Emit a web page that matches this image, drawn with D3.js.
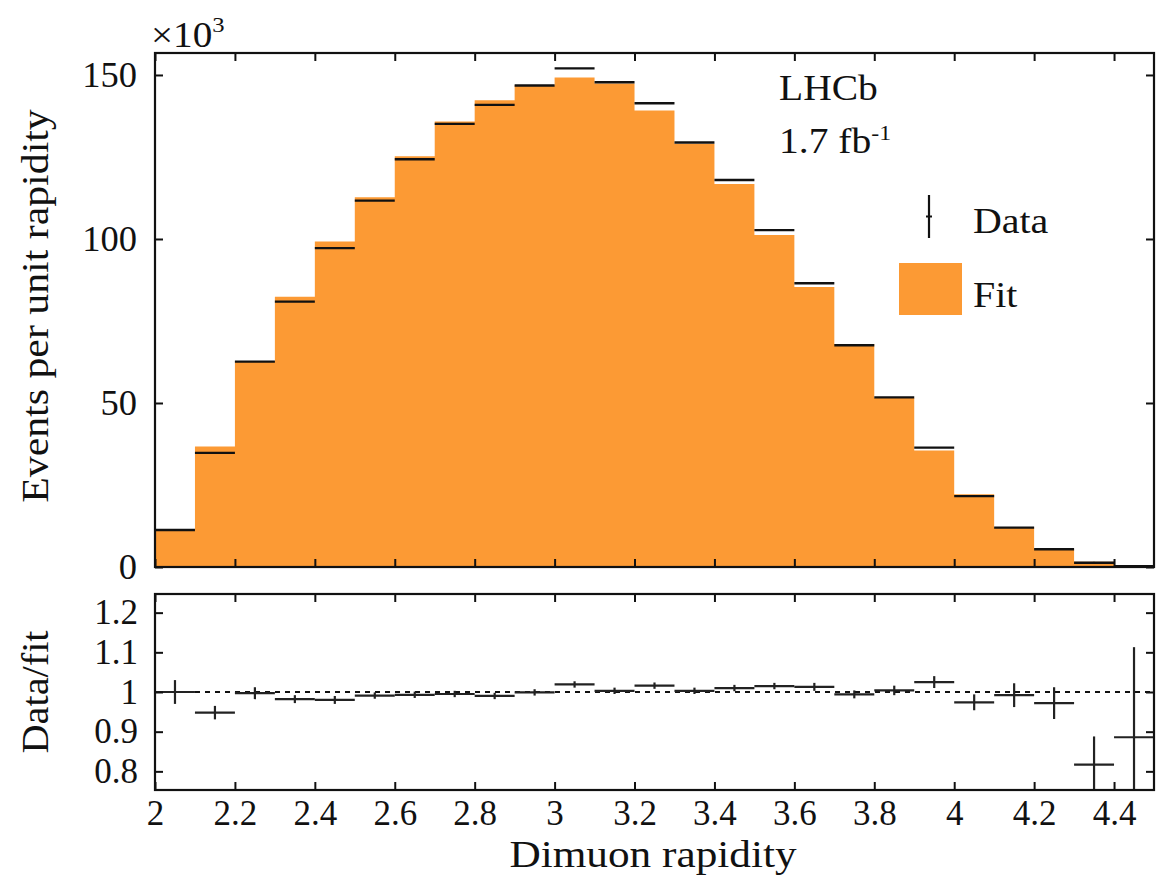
<!DOCTYPE html>
<html><head><meta charset="utf-8">
<script src="https://cdn.jsdelivr.net/npm/d3@7"></script>
<style>
html,body{margin:0;padding:0;background:#fff;}
svg text{font-family:"Liberation Serif","Times New Roman",serif;fill:#111;}
</style></head>
<body>
<svg id="chart" width="1157" height="887"></svg>
<script>
// ---- data ----
const binEdges = [2.0,2.1,2.2,2.3,2.4,2.5,2.6,2.7,2.8,2.9,3.0,3.1,3.2,3.3,3.4,3.5,3.6,3.7,3.8,3.9,4.0,4.1,4.2,4.3,4.4,4.5];
// events per unit rapidity, in units of 10^3
const dataVals = [11.3,34.8,62.6,80.9,97.2,111.7,124.3,135.1,140.9,146.8,152.0,147.8,141.4,129.4,118.0,102.7,86.5,67.6,51.7,36.4,21.6,12.0,5.4,1.3,0.25];
const dataErr  = [0.4,0.5,0.5,0.5,0.5,0.5,0.5,0.5,0.5,0.5,0.5,0.5,0.5,0.5,0.5,0.5,0.5,0.5,0.4,0.4,0.4,0.4,0.3,0.2,0.1];
const fitVals  = [11.4,36.7,62.8,82.4,99.2,112.7,125.2,135.8,142.3,146.9,149.2,147.4,139.2,129.0,116.8,101.2,85.4,68.0,51.5,35.5,22.2,12.1,5.6,1.6,0.28];
// data / fit ratio
const ratioVals = [1.000,0.948,0.997,0.982,0.980,0.991,0.993,0.995,0.990,0.999,1.019,1.003,1.016,1.003,1.010,1.015,1.013,0.994,1.004,1.025,0.974,0.992,0.972,0.817,0.886];
const ratioErr  = [0.030,0.017,0.015,0.010,0.010,0.008,0.008,0.008,0.008,0.008,0.008,0.008,0.008,0.008,0.008,0.008,0.010,0.010,0.012,0.015,0.020,0.030,0.040,0.071,0.227];
const xTicks = [2,2.2,2.4,2.6,2.8,3,3.2,3.4,3.6,3.8,4,4.2,4.4];
const yTopTicks = [0,50,100,150];
const yBotTicks = [0.8,0.9,1.0,1.1,1.2];

// ---- layout ----
const L = 155, R = 1154;
const topT = 53, topB = 567;
const botT = 594, botB = 790;
const orange = "#fc9a34";

const svg = d3.select("#chart");
const x = d3.scaleLinear().domain([2,4.5]).range([L,R]);
const yT = d3.scaleLinear().domain([0,156.7]).range([topB,topT]);
const yB = d3.scaleLinear().domain([0.753,1.247]).range([botB,botT]);

const bins = dataVals.map((v,i)=>({lo:binEdges[i],hi:binEdges[i+1],c:(binEdges[i]+binEdges[i+1])/2,d:v,e:dataErr[i],f:fitVals[i],r:ratioVals[i],re:ratioErr[i]}));

// helper: horizontally stretched label
function label(parent, x0, y0, size, sx, anchor, rot){
  const g = parent.append("g").attr("transform",`translate(${x0},${y0})${rot?` rotate(${rot})`:""} scale(${sx},1)`);
  return g.append("text").attr("font-size",size).attr("text-anchor",anchor||"start");
}

// ---- upper panel ----
const gT = svg.append("g");
const areaPts = binEdges.map((e,i)=>({x:e,y:fitVals[Math.min(i,fitVals.length-1)]}));
gT.append("path").datum(areaPts)
  .attr("d", d3.area().x(d=>x(d.x)).y0(yT(0)).y1(d=>yT(d.y)).curve(d3.curveStepAfter))
  .attr("fill", orange);

const dm = gT.append("g").attr("stroke","#111").attr("stroke-width",2.4);
bins.forEach(b=>{
  dm.append("line").attr("x1",x(b.lo)).attr("x2",x(b.hi)).attr("y1",yT(b.d)).attr("y2",yT(b.d));
  dm.append("line").attr("x1",x(b.c)).attr("x2",x(b.c)).attr("y1",yT(b.d-b.e)-1.5).attr("y2",yT(b.d+b.e)+1.5);
});

function noLabelAxis(axis){ return axis.tickSize(-8).tickSizeOuter(0).tickFormat(""); }
function styleAxis(g){ g.select(".domain").remove(); g.selectAll(".tick line").attr("stroke","#111").attr("stroke-width",2); g.selectAll("text").attr("font-size",36.5).attr("fill","#111"); }

gT.append("g").attr("transform",`translate(0,${topB})`).call(noLabelAxis(d3.axisBottom(x).tickValues(xTicks))).call(styleAxis);
gT.append("g").attr("transform",`translate(0,${topT})`).call(noLabelAxis(d3.axisTop(x).tickValues(xTicks))).call(styleAxis);
gT.append("g").attr("transform",`translate(${R},0)`).call(noLabelAxis(d3.axisRight(yT).tickValues(yTopTicks))).call(styleAxis);
gT.append("g").attr("transform",`translate(${L},0)`)
  .call(d3.axisLeft(yT).tickValues(yTopTicks).tickSize(-8).tickSizeOuter(0).tickPadding(18).tickFormat(d3.format("d")))
  .call(styleAxis);
gT.append("rect").attr("x",L).attr("y",topT).attr("width",R-L).attr("height",topB-topT)
  .attr("fill","none").attr("stroke","#111").attr("stroke-width",2.2);

// multiplier
const mult = label(svg, 151, 47, 35, 1.12, "start");
mult.append("tspan").text("×10");
mult.append("tspan").attr("font-size",22).attr("dy",-15).text("3");

// y label
label(svg, 48, 306, 37, 1.13, "middle", -90).text("Events per unit rapidity");

// LHCb labels
label(svg, 779, 100, 35, 1.13, "start").text("LHCb");
const lum = label(svg, 779, 153, 35, 1.13, "start");
lum.append("tspan").text("1.7 fb");
lum.append("tspan").attr("font-size",21).attr("dy",-13).text("-1");

// legend
const lg = svg.append("g");
lg.append("line").attr("x1",929).attr("x2",929).attr("y1",195).attr("y2",238).attr("stroke","#111").attr("stroke-width",2.2);
lg.append("line").attr("x1",926).attr("x2",932).attr("y1",216.5).attr("y2",216.5).attr("stroke","#111").attr("stroke-width",2);
label(lg, 973, 233, 35, 1.14, "start").text("Data");
lg.append("rect").attr("x",899).attr("y",263).attr("width",63).attr("height",52).attr("fill",orange);
label(lg, 973, 307, 35, 1.14, "start").text("Fit");

// ---- lower panel ----
const gB = svg.append("g");
svg.append("clipPath").attr("id","clipB").append("rect").attr("x",L).attr("y",botT).attr("width",R-L).attr("height",botB-botT);
gB.append("line").attr("x1",L).attr("x2",R).attr("y1",yB(1)).attr("y2",yB(1))
  .attr("stroke","#111").attr("stroke-width",1.8).attr("stroke-dasharray","5,5");
const rm = gB.append("g").attr("clip-path","url(#clipB)").attr("stroke","#222").attr("stroke-width",2.2);
bins.forEach(b=>{
  rm.append("line").attr("x1",x(b.lo)).attr("x2",x(b.hi)).attr("y1",yB(b.r)).attr("y2",yB(b.r));
  rm.append("line").attr("x1",x(b.c)).attr("x2",x(b.c)).attr("y1",yB(b.r-b.re)).attr("y2",yB(b.r+b.re));
});
gB.append("g").attr("transform",`translate(0,${botT})`).call(noLabelAxis(d3.axisTop(x).tickValues(xTicks))).call(styleAxis);
gB.append("g").attr("transform",`translate(${R},0)`).call(noLabelAxis(d3.axisRight(yB).tickValues(yBotTicks))).call(styleAxis);
gB.append("g").attr("transform",`translate(0,${botB})`)
  .call(d3.axisBottom(x).tickValues(xTicks).tickSize(-8).tickSizeOuter(0).tickPadding(10).tickFormat(d3.format("~g")))
  .call(styleAxis).selectAll("text").attr("font-size",35);
gB.append("g").attr("transform",`translate(${L},0)`)
  .call(d3.axisLeft(yB).tickValues(yBotTicks).tickSize(-8).tickSizeOuter(0).tickPadding(17).tickFormat(d3.format("~g")))
  .call(styleAxis).selectAll("text").attr("font-size",35);
gB.append("rect").attr("x",L).attr("y",botT).attr("width",R-L).attr("height",botB-botT)
  .attr("fill","none").attr("stroke","#111").attr("stroke-width",2.2);

label(svg, 48, 692, 37, 1.09, "middle", -90).text("Data/fit");
label(svg, 653, 867, 37, 1.17, "middle").text("Dimuon rapidity");
</script>
</body></html>
